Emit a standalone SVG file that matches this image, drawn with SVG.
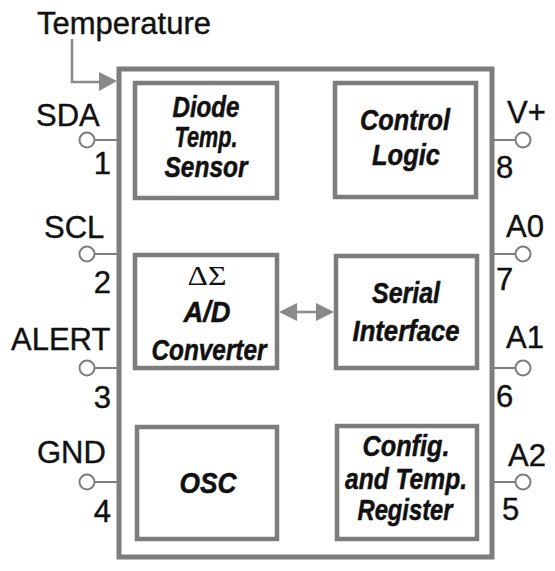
<svg xmlns="http://www.w3.org/2000/svg" width="555" height="571" viewBox="0 0 555 571">
<style>
.box{fill:#fff;stroke:#7d7d7d;stroke-width:4.5}
.outer{fill:#fff;stroke:#7d7d7d;stroke-width:5}
.pin{fill:#fff;stroke:#7d7d7d;stroke-width:2}
.lead{stroke:#7d7d7d;stroke-width:2;fill:none}
.lbl{font-family:"Liberation Sans",Arial,sans-serif;font-size:31px;fill:#111;stroke:#111;stroke-width:0.4}
.blk{font-family:"Liberation Sans",Arial,sans-serif;font-size:29px;font-weight:bold;font-style:italic;fill:#111;text-anchor:middle;stroke:#111;stroke-width:0.5}
.sym{font-family:"Liberation Serif","Times New Roman",serif;font-size:27px;fill:#111;text-anchor:middle}
.conn{stroke:#8a8a8a;stroke-width:2.5;fill:none}
.head{fill:#8a8a8a}
</style>
<rect width="555" height="571" fill="#fff"/>
<g id="chip">
<rect class="outer" x="119" y="69" width="373" height="488"/>
</g>
<g id="temperature">
<text class="lbl" x="37" y="34">Temperature</text>
</g>
<g id="diode">
<rect class="box" x="135" y="83" width="142" height="115"/>
<text class="blk" x="206" y="117" textLength="67" lengthAdjust="spacingAndGlyphs">Diode</text>
<text class="blk" x="206" y="147" textLength="63" lengthAdjust="spacingAndGlyphs">Temp.</text>
<text class="blk" x="206" y="177" textLength="83" lengthAdjust="spacingAndGlyphs">Sensor</text>
</g>
<g id="control">
<rect class="box" x="335" y="83" width="141" height="114"/>
<text class="blk" x="405" y="130" textLength="90" lengthAdjust="spacingAndGlyphs">Control</text>
<text class="blk" x="406" y="165" textLength="68" lengthAdjust="spacingAndGlyphs">Logic</text>
</g>
<g id="adc">
<rect class="box" x="135" y="255" width="142" height="113"/>
<text class="sym" x="207" y="285" textLength="39" lengthAdjust="spacingAndGlyphs">ΔΣ</text>
<text class="blk" x="207" y="322" textLength="47" lengthAdjust="spacingAndGlyphs">A/D</text>
<text class="blk" x="209" y="360" textLength="115" lengthAdjust="spacingAndGlyphs">Converter</text>
</g>
<g id="serial">
<rect class="box" x="336" y="256" width="141" height="112"/>
<text class="blk" x="406" y="303" textLength="68" lengthAdjust="spacingAndGlyphs">Serial</text>
<text class="blk" x="406" y="341" textLength="107" lengthAdjust="spacingAndGlyphs">Interface</text>
</g>
<g id="osc">
<rect class="box" x="137" y="427" width="140" height="112"/>
<text class="blk" x="208" y="493" textLength="57" lengthAdjust="spacingAndGlyphs">OSC</text>
</g>
<g id="config">
<rect class="box" x="337" y="426" width="140" height="113"/>
<text class="blk" x="406" y="456" textLength="87" lengthAdjust="spacingAndGlyphs">Config.</text>
<text class="blk" x="406" y="489" textLength="122" lengthAdjust="spacingAndGlyphs">and Temp.</text>
<text class="blk" x="405" y="520" textLength="95" lengthAdjust="spacingAndGlyphs">Register</text>
</g>
<g id="pin1">
<line class="lead" x1="95" y1="140" x2="117" y2="140"/><circle class="pin" cx="87" cy="140" r="7.5"/>
<text class="lbl" x="36" y="126">SDA</text><text class="lbl" x="111" y="174" text-anchor="end">1</text>
</g>
<g id="pin2">
<line class="lead" x1="95" y1="254" x2="117" y2="254"/><circle class="pin" cx="87" cy="254" r="7.5"/>
<text class="lbl" x="44" y="238">SCL</text><text class="lbl" x="111" y="293" text-anchor="end">2</text>
</g>
<g id="pin3">
<line class="lead" x1="95" y1="368" x2="117" y2="368"/><circle class="pin" cx="87" cy="368" r="7.5"/>
<text class="lbl" x="11" y="350">ALERT</text><text class="lbl" x="111" y="408" text-anchor="end">3</text>
</g>
<g id="pin4">
<line class="lead" x1="95" y1="482" x2="117" y2="482"/><circle class="pin" cx="87" cy="482" r="7.5"/>
<text class="lbl" x="37" y="463">GND</text><text class="lbl" x="111" y="522" text-anchor="end">4</text>
</g>
<g id="pin8">
<line class="lead" x1="494" y1="140" x2="515" y2="140"/><circle class="pin" cx="523" cy="140" r="7.5"/>
<text class="lbl" x="507" y="123">V+</text><text class="lbl" x="496" y="178">8</text>
</g>
<g id="pin7">
<line class="lead" x1="494" y1="254" x2="515" y2="254"/><circle class="pin" cx="523" cy="254" r="7.5"/>
<text class="lbl" x="506" y="237">A0</text><text class="lbl" x="496" y="290">7</text>
</g>
<g id="pin6">
<line class="lead" x1="494" y1="368" x2="515" y2="368"/><circle class="pin" cx="523" cy="368" r="7.5"/>
<text class="lbl" x="506" y="348">A1</text><text class="lbl" x="496" y="407">6</text>
</g>
<g id="pin5">
<line class="lead" x1="494" y1="482" x2="515" y2="482"/><circle class="pin" cx="523" cy="482" r="7.5"/>
<text class="lbl" x="508" y="466">A2</text><text class="lbl" x="502" y="520">5</text>
</g>
<g id="connectors">
<polyline class="conn" points="72,39 72,82 101,82"/>
<polygon class="head" points="99,72 117,81 99,91"/>
<line class="conn" x1="295" y1="312" x2="318" y2="312"/>
<polygon class="head" points="279,312 297,303 297,321"/>
<polygon class="head" points="334,312 316,303 316,321"/>
</g>
</svg>
